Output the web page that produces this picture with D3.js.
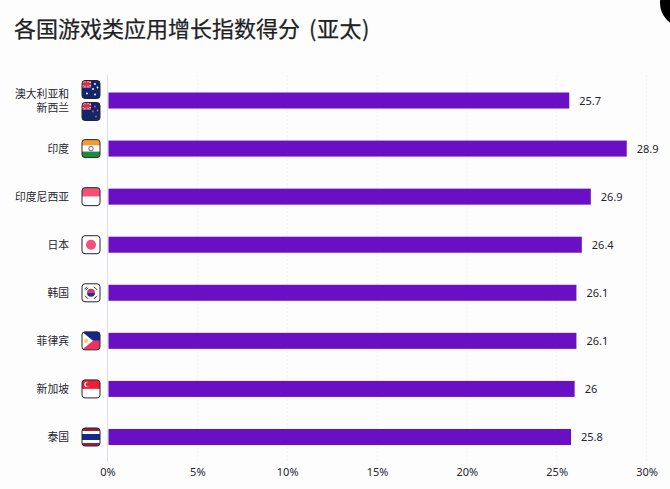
<!DOCTYPE html>
<html>
<head>
<meta charset="utf-8">
<script src="https://cdn.jsdelivr.net/npm/d3@7"></script>
<style>
  html, body { margin: 0; padding: 0; background: #fdfdfe; }
  svg { display: block; }
  text { font-family: "Noto Sans CJK SC", "Noto Sans", sans-serif; }
</style>
</head>
<body>
<svg id="chart" width="670" height="489"></svg>
<script>
const titleMain = "各国游戏类应用增长指数得分";
const titleRegion = "(亚太)";
const countries = ["澳大利亚和\n新西兰", "印度", "印度尼西亚", "日本", "韩国", "菲律宾", "新加坡", "泰国"];
const scores = [25.7, 28.9, 26.9, 26.4, 26.1, 26.1, 26, 25.8];
const flagNames = [["au", "nz"], ["in"], ["id"], ["jp"], ["kr"], ["ph"], ["sg"], ["th"]];
const xTicks = [0, 5, 10, 15, 20, 25, 30];

const svg = d3.select("#chart");
const flagSize = 18;
const textColor = "#26262e";

const x = d3.scaleLinear().domain([0, 30]).range([107.5, 646.5]);
const y = d3.scaleBand().domain(countries).range([76.5, 461]).paddingInner(0.667).paddingOuter(0.333);

// corner blob top right
svg.append("circle").attr("cx", 684).attr("cy", 3).attr("r", 24).attr("fill", "#000");

const title = svg.append("text")
  .attr("x", 14).attr("y", 37)
  .attr("font-size", 22)
  .attr("fill", "#1f1f24")
  .attr("stroke", "#1f1f24")
  .attr("stroke-width", 0.25);
title.append("tspan").text(titleMain);
title.append("tspan").attr("dx", 9).attr("letter-spacing", 0.5).text(titleRegion);

// grid
svg.append("g").selectAll("line").data(xTicks).join("line")
  .attr("x1", (d) => x(d)).attr("x2", (d) => x(d))
  .attr("y1", 75).attr("y2", 462)
  .attr("stroke", (d) => (d === 0 ? "#dcdde6" : "#f1f2f6"))
  .attr("stroke-width", 1)
  .attr("stroke-dasharray", (d) => (d === 0 ? null : "2,2"));

const axis = d3.axisBottom(x).tickValues(xTicks).tickFormat((d) => d + "%").tickSize(0).tickPadding(0);
const axisG = svg.append("g").attr("transform", "translate(0,468)").call(axis);
axisG.select(".domain").remove();
axisG.selectAll("text")
  .attr("y", 0)
  .attr("font-size", 11)
  .attr("fill", textColor)
  .style("font-family", "'Noto Sans', sans-serif");

// bars
svg.append("g").selectAll("rect").data(countries).join("rect")
  .attr("x", x(0) + 1)
  .attr("y", (d) => y(d))
  .attr("width", (d, i) => x(scores[i]) - x(0) - 1)
  .attr("height", y.bandwidth())
  .attr("fill", "#6a10c4");

// value labels
svg.append("g").selectAll("text").data(countries).join("text")
  .attr("x", (d, i) => x(scores[i]) + 10)
  .attr("y", (d) => y(d) + y.bandwidth() / 2 + 4.5)
  .attr("font-size", 11)
  .attr("fill", textColor)
  .style("font-family", "'Noto Sans', sans-serif")
  .text((d, i) => scores[i]);

// country labels
svg.append("g").selectAll("text").data(countries).join("text")
  .attr("text-anchor", "end")
  .attr("font-size", 10.8)
  .attr("fill", textColor)
  .each(function (d) {
    const lines = d.split("\n");
    const cy = y(d) + y.bandwidth() / 2;
    d3.select(this).selectAll("tspan").data(lines).join("tspan")
      .attr("x", 69)
      .attr("y", (l, i) => cy + 4 + (i - (lines.length - 1) / 2) * 14)
      .text((l) => l);
  });

// small flags, drawn in a 18x18 box
const clip = svg.append("defs").append("clipPath").attr("id", "flagClip");
clip.append("rect").attr("width", flagSize).attr("height", flagSize).attr("rx", 3);

function star(g, cx, cy, r, fill) {
  g.append("circle").attr("cx", cx).attr("cy", cy).attr("r", r).attr("fill", fill);
}

function box(g, bx, by, w, h, fill) {
  g.append("rect").attr("x", bx).attr("y", by).attr("width", w).attr("height", h).attr("fill", fill);
}

function ensignCorner(g) {
  box(g, 0, 0, 9, 7, "#d8dbe8");
  g.append("path").attr("d", "M0 0L9 7M9 0L0 7").attr("stroke", "#e0294f").attr("stroke-width", 1.2);
  box(g, 3.5, 0, 2, 7, "#e0294f");
  box(g, 0, 2.5, 9, 2, "#e0294f");
}

const flagDrawers = {
  au(g) {
    box(g, 0, 0, 18, 18, "#12266b");
    ensignCorner(g);
    [[13, 3.5], [15.5, 7], [11, 8.5], [13, 14], [5, 13]].forEach((p) => star(g, p[0], p[1], 0.9, "#fff"));
  },
  nz(g) {
    box(g, 0, 0, 18, 18, "#12266b");
    ensignCorner(g);
    [[13, 4], [15.5, 8], [11, 9], [14, 14]].forEach((p) => star(g, p[0], p[1], 0.9, "#f0506e"));
  },
  in(g) {
    box(g, 0, 0, 18, 6, "#f59a2c");
    box(g, 0, 6, 18, 6, "#fff");
    box(g, 0, 12, 18, 6, "#1f8a3c");
    g.append("circle").attr("cx", 9).attr("cy", 9).attr("r", 2.2).attr("fill", "none").attr("stroke", "#3f4fa0").attr("stroke-width", 0.9);
  },
  id(g) {
    box(g, 0, 0, 18, 9, "#f74f78");
    box(g, 0, 9, 18, 9, "#fff");
  },
  jp(g) {
    box(g, 0, 0, 18, 18, "#fff");
    star(g, 9, 9, 5, "#f74f78");
  },
  kr(g) {
    box(g, 0, 0, 18, 18, "#fff");
    g.append("path").attr("d", "M5 9A4 4 0 0 1 13 9Z").attr("fill", "#d9365e");
    g.append("path").attr("d", "M5 9A4 4 0 0 0 13 9Z").attr("fill", "#2a2a8c");
    g.append("path")
      .attr("d", "M2.5 5.5L5 3M3.5 6.5L6 4M12 3L15 6M12 15L15 12M3 12L6 15")
      .attr("stroke", "#26262b").attr("stroke-width", 1);
  },
  ph(g) {
    box(g, 0, 0, 18, 9, "#14288a");
    box(g, 0, 9, 18, 9, "#f0315f");
    g.append("path").attr("d", "M0 0L11 9L0 18Z").attr("fill", "#fff");
    star(g, 4, 9, 2.2, "#f7d44c");
  },
  sg(g) {
    box(g, 0, 0, 18, 9, "#ee1c34");
    box(g, 0, 9, 18, 9, "#fff");
    star(g, 5, 4.5, 2.6, "#fff");
    star(g, 6.2, 4.5, 2.4, "#ee1c34");
  },
  th(g) {
    box(g, 0, 0, 18, 18, "#fff");
    box(g, 0, 0, 18, 3, "#a4173f");
    box(g, 0, 15, 18, 3, "#a4173f");
    box(g, 0, 6, 18, 6, "#12298f");
  }
};

countries.forEach((c, i) => {
  const names = flagNames[i];
  const cy = y(c) + y.bandwidth() / 2;
  names.forEach((name, k) => {
    const top = cy - flagSize / 2 + (k - (names.length - 1) / 2) * 22;
    const g = svg.append("g").attr("transform", `translate(82,${top})`);
    const inner = g.append("g").attr("clip-path", "url(#flagClip)");
    flagDrawers[name](inner);
    g.append("rect")
      .attr("width", flagSize).attr("height", flagSize).attr("rx", 3)
      .attr("fill", "none").attr("stroke", "#26262b").attr("stroke-width", 1);
  });
});
</script>
</body>
</html>
